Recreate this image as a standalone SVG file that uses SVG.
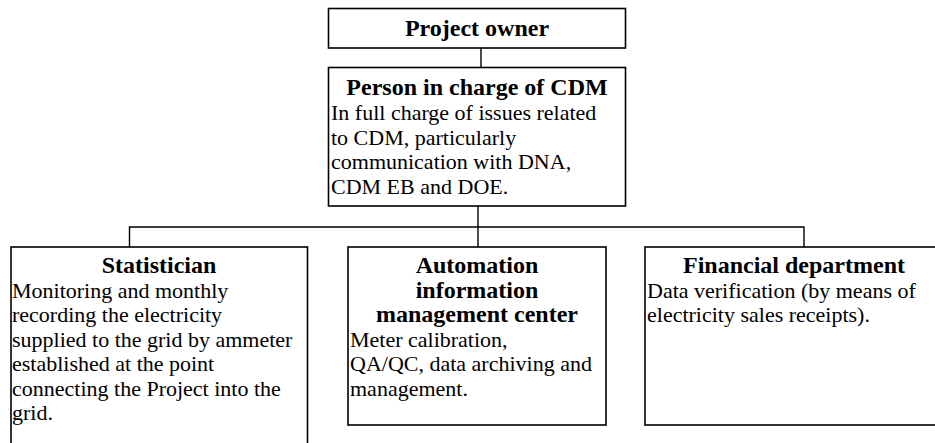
<svg xmlns="http://www.w3.org/2000/svg" width="935" height="443" viewBox="0 0 935 443">
<style>
.box{fill:#fff;stroke:#000;stroke-width:1.6}
.con{fill:none;stroke:#000;stroke-width:1.4}
text{font-family:"Liberation Serif","Times New Roman",serif;font-size:22px;fill:#000}
.t{font-weight:bold;font-size:24px;text-anchor:middle}
</style>
<rect width="935" height="443" fill="#fff"/>
<g id="connectors">
<line class="con" x1="481" y1="48" x2="481" y2="67"/>
<line class="con" x1="478" y1="206" x2="478" y2="247"/>
<polyline class="con" points="129.5,247 129.5,227 804,227 804,247"/>
</g>
<g id="project-owner">
<rect class="box" x="328.5" y="8.5" width="297" height="39.5"/>
<text class="t" x="477" y="36">Project owner</text>
</g>
<g id="person-cdm">
<rect class="box" x="328.5" y="67.5" width="297" height="138.5"/>
<text class="t" x="477" y="95">Person in charge of CDM</text>
<text x="331" y="120">In full charge of issues related</text>
<text x="331" y="144.5">to CDM, particularly</text>
<text x="331" y="169">communication with DNA,</text>
<text x="331" y="193.5">CDM EB and DOE.</text>
</g>
<g id="statistician">
<rect class="box" x="11" y="247" width="296.5" height="220"/>
<text class="t" x="159" y="273">Statistician</text>
<text x="12" y="297.5">Monitoring and monthly</text>
<text x="12" y="322">recording the electricity</text>
<text x="12" y="346.5">supplied to the grid by ammeter</text>
<text x="12" y="371">established at the point</text>
<text x="12" y="395.5">connecting the Project into the</text>
<text x="12" y="420">grid.</text>
</g>
<g id="automation">
<rect class="box" x="348" y="247" width="258" height="178"/>
<text class="t" x="477" y="273">Automation</text>
<text class="t" x="477" y="297.5">information</text>
<text class="t" x="477" y="322">management center</text>
<text x="350" y="346.5">Meter calibration,</text>
<text x="350" y="371">QA/QC, data archiving and</text>
<text x="350" y="395.5">management.</text>
</g>
<g id="financial">
<rect class="box" x="645" y="247" width="300" height="178"/>
<text class="t" x="794" y="273">Financial department</text>
<text x="647" y="297.5">Data verification (by means of</text>
<text x="647" y="322">electricity sales receipts).</text>
</g>
</svg>
